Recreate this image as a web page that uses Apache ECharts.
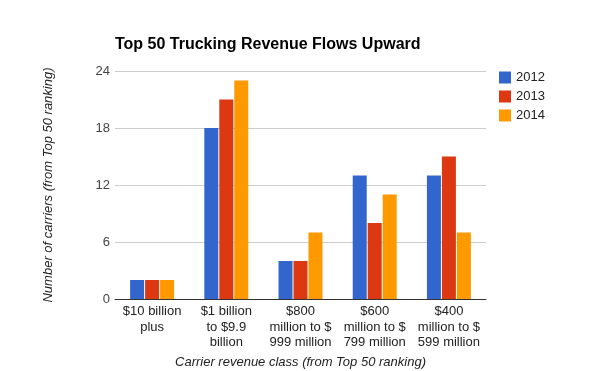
<!DOCTYPE html>
<html><head><meta charset="utf-8">
<script src="https://cdn.jsdelivr.net/npm/echarts@6/dist/echarts.min.js"></script>
<style>html,body{margin:0;padding:0;background:#fff}#c{width:600px;height:371px}</style>
</head><body><div id="c"></div>
<script>
const categories = ["$10 billion\nplus", "$1 billion\nto $9.9\nbillion", "$800\nmillion to $\n999 million", "$600\nmillion to $\n799 million", "$400\nmillion to $\n599 million"];
const years = ["2012", "2013", "2014"];
const s2012 = [2, 18, 4, 13, 13];
const s2013 = [2, 21, 4, 8, 15];
const s2014 = [2, 23, 7, 11, 7];
const yTicks = [0, 6, 12, 18, 24];
const colors = ["#3366cc", "#dc3912", "#ff9900"];
const FONT = "'Liberation Sans', Arial, sans-serif";

const chart = echarts.init(document.getElementById('c'), null, {renderer: 'canvas'});
const data = [s2012, s2013, s2014];
chart.setOption({
  animation: false,
  color: colors,
  textStyle: {fontFamily: FONT},
  title: {
    text: "Top 50 Trucking Revenue Flows Upward",
    left: 115, top: 37, padding: 0,
    textStyle: {fontFamily: FONT, fontSize: 16, fontWeight: 'bold', color: '#000'}
  },
  legend: {
    orient: 'vertical', left: 494, top: 66,
    itemWidth: 12, itemHeight: 12, itemGap: 6,
    icon: 'rect',
    textStyle: {fontFamily: FONT, fontSize: 13, color: '#222'},
    data: years
  },
  grid: {left: 115, right: 114, top: 71, bottom: 72, outerBoundsMode: 'none', containLabel: false},
  xAxis: {
    type: 'category', data: categories,
    name: "Carrier revenue class (from Top 50 ranking)",
    nameLocation: 'middle', nameGap: 52,
    nameTextStyle: {fontFamily: FONT, fontSize: 13, fontStyle: 'italic', color: '#222'},
    axisLine: {lineStyle: {color: '#333', width: 1}},
    axisTick: {show: false},
    axisLabel: {fontFamily: FONT, fontSize: 13, color: '#222', lineHeight: 15.5, margin: 5, interval: 0}
  },
  yAxis: {
    type: 'value', min: yTicks[0], max: yTicks[yTicks.length-1], interval: 6,
    name: "Number of carriers (from Top 50 ranking)",
    nameLocation: 'middle', nameGap: 60, nameRotate: 90,
    nameTextStyle: {fontFamily: FONT, fontSize: 13, fontStyle: 'italic', color: '#222'},
    axisLine: {show: false}, axisTick: {show: false},
    axisLabel: {fontFamily: FONT, fontSize: 13, color: '#444', margin: 5},
    splitLine: {lineStyle: {color: '#ccc', width: 1}}
  },
  series: years.map((y, i) => ({
    name: y, type: 'bar', data: data[i],
    barWidth: 14, barGap: '7%',
    itemStyle: {color: colors[i]}
  }))
});
</script></body></html>
